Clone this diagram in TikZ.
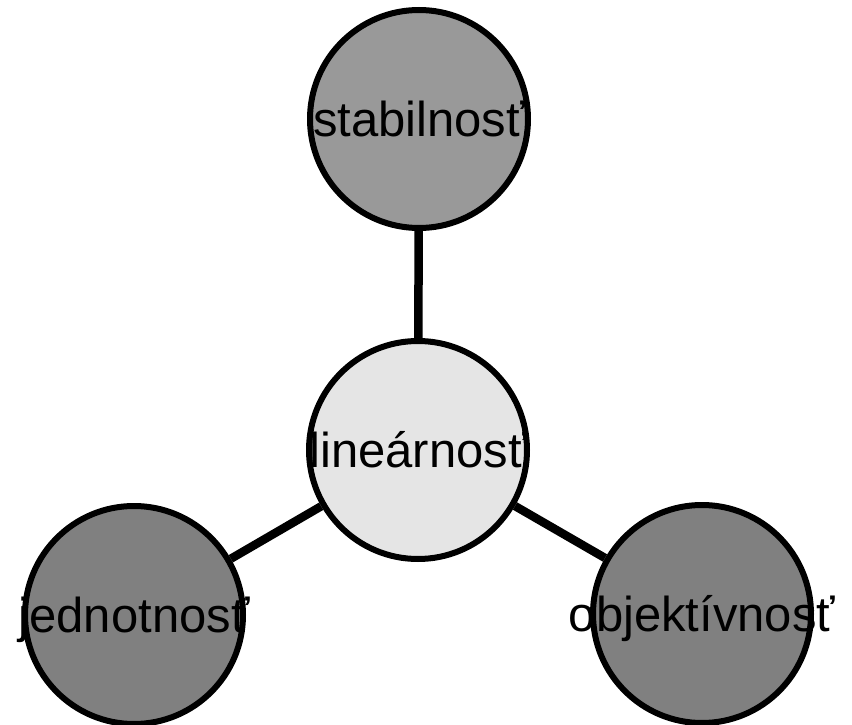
\documentclass[tikz,border=0pt]{standalone}
\usepackage{fontspec}
\setmainfont{Liberation Sans}
\begin{document}
\begin{tikzpicture}[x=1pt,y=-1pt,
  kruh/.style={circle,draw=black,line width=6pt,minimum size=218pt,inner sep=0pt},
  popis/.style={font=\fontsize{49}{58}\selectfont,inner sep=0pt,text height=35pt,text depth=0pt},
  spoj/.style={line width=8.5pt}]
\useasboundingbox (0,0) rectangle (852,725);
\node (stab) at (419,119)[kruh,fill=black!40,label={[popis]center:stabilnosť}]{};
\node (lin) at (418,450)[kruh,fill=black!10,label={[popis]center:lineárnosť}]{};
\node (jed) at (134,615)[kruh,fill=black!50,label={[popis]center:jednotnosť}]{};
\node (obj) at (702,614)[kruh,fill=black!50,label={[popis]center:objektívnosť}]{};

\draw[spoj] (stab)--(lin);
\draw[spoj] (lin)--(jed);
\draw[spoj] (lin)--(obj);
\end{tikzpicture}
\end{document}
